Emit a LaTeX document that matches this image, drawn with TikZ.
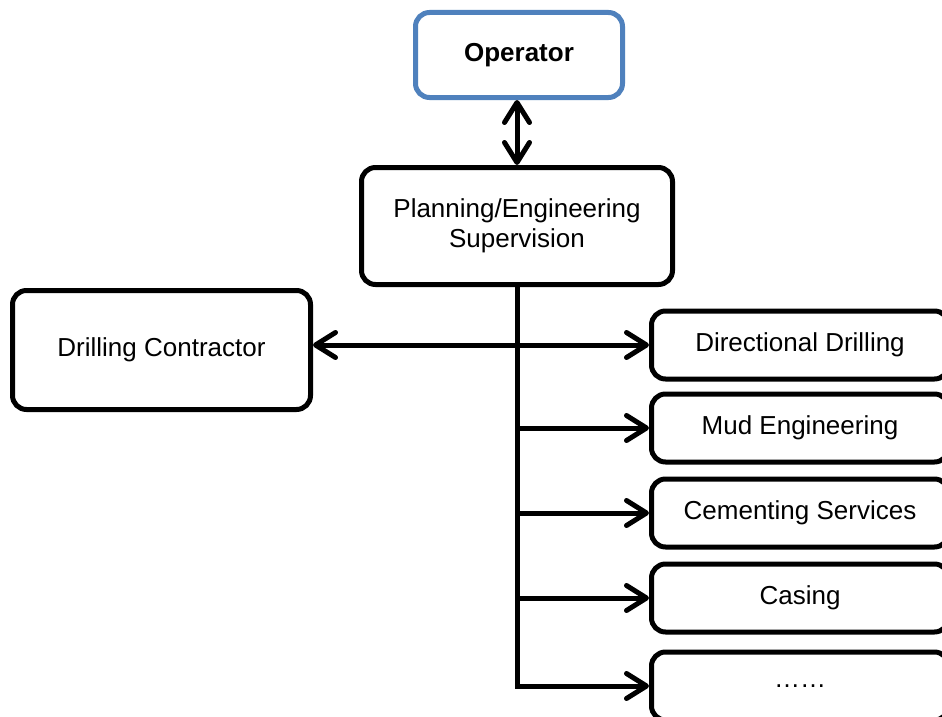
\documentclass[tikz,border=0pt]{standalone}
\usepackage{fontspec}
\setmainfont{Liberation Sans}
\usetikzlibrary{arrows.meta}
\definecolor{opblue}{HTML}{4F81BD}
\tikzset{
  barb/.tip={Straight Barb[length=20pt,width=25pt,line cap=round,line join=round]},
  box/.style={draw=black, line width=5pt, rounded corners=14pt, fill=white,
    inner sep=0pt, align=center, font=\fontsize{26}{30}\selectfont},
  sidebox/.style={box, minimum width=297pt, minimum height=68pt},
  link/.style={line width=5pt, -barb},
  duplex/.style={line width=5pt, barb-barb}
}
\begin{document}
\begin{tikzpicture}[x=1pt, y=-1pt]
  \useasboundingbox (0,0) rectangle (942,717);
  \clip (0,0) rectangle (942,717);
  \fill[white] (0,0) rectangle (942,717);

  % top of the hierarchy
  \node[box, draw=opblue, minimum width=207pt, minimum height=85pt, font=\fontsize{26}{30}\selectfont\bfseries]
    (op) at (519,55) {Operator};
  \node[box, minimum width=311pt, minimum height=117pt]
    (plan) at (517,226) {Planning/Engineering\\Supervision};
  \node[box, minimum width=298pt, minimum height=119pt]
    (dc) at (161.5,350) {Drilling Contractor};

  % service companies
  \node[sidebox] (b1) at (800,345) {Directional Drilling};
  \node[sidebox] (b2) at (800,428) {Mud Engineering};
  \node[sidebox] (b3) at (800,513) {Cementing Services};
  \node[sidebox] (b4) at (800,598) {Casing};
  \node[sidebox] (b5) at (800,686) {\raisebox{-3pt}{……}};

  % connectors
  \draw[duplex] (op.south -| plan.north) -- (plan.north);
  \draw[duplex] (dc.east |- b1.west) -- (b1.west);
  \draw[link, line join=miter] (plan.south) |- (b5.west);
  \foreach \b in {b2,b3,b4}
    \draw[link] (plan.south |- \b.west) -- (\b.west);
\end{tikzpicture}
\end{document}
